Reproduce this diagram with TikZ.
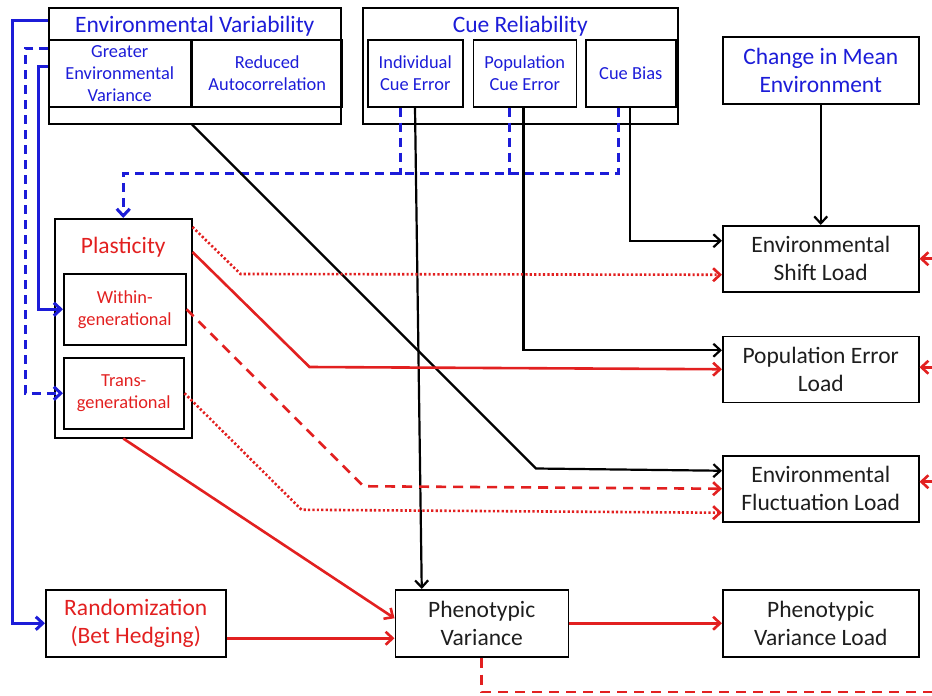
\documentclass[tikz,border=0pt]{standalone}
\usepackage{fontspec}
\setmainfont{Carlito}
\usetikzlibrary{positioning, arrows.meta}
\definecolor{evblue}{RGB}{28,28,216}
\definecolor{plred}{RGB}{226,32,32}
\definecolor{ink}{RGB}{30,30,30}
\newcommand{\bigtxt}{\fontsize{23.5}{28}\selectfont}
\newcommand{\smalltxt}{\fontsize{18.4}{22}\selectfont}
\tikzstyle{bx} = [draw, line width=1.5pt, inner sep=0pt, align=center, text=ink, font=\bigtxt, minimum height=66pt]
\tikzstyle{sb} = [bx, font=\smalltxt, text=evblue, minimum height=67pt]
\tikzstyle{hd} = [inner sep=0pt, font=\bigtxt, anchor=base]
\tikzstyle{blk} = [->, line width=2.2pt, black]
\tikzstyle{bl} = [->, line width=3pt, evblue]
\tikzstyle{bld} = [bl, dash pattern=on 9pt off 6pt]
\tikzstyle{rd} = [->, line width=2.6pt, plred]
\tikzstyle{rdash} = [rd, dash pattern=on 10pt off 7pt]
\tikzstyle{rdot} = [rd, dash pattern=on 2.2pt off 2.2pt]

\begin{document}
\begin{tikzpicture}[x=1pt, y=1pt, >={Straight Barb[length=7pt, width=13pt]}]
    \useasboundingbox (0,0) rectangle (932,-696);

    % drivers
    \node[bx, minimum width=292pt, minimum height=116pt, anchor=north west] (envvar) at (48,-7) {};
    \node[hd, text=evblue] (envhd) at ([yshift=-25pt]envvar.north) {Environmental Variability};
    \node[sb, minimum width=142pt, anchor=north west] (greatvar) at (48,-39) {Greater\\Environmental\\Variance};
    \node[sb, minimum width=150pt, right=0pt of greatvar] (reducac) {Reduced\\Autocorrelation};

    \node[bx, minimum width=315pt, minimum height=116pt, anchor=north west] (cuerel) at (362,-7) {};
    \node[hd, text=evblue] (cuehd) at ([yshift=-25pt]cuerel.north) {Cue Reliability};
    \node[sb, minimum width=95pt, anchor=north west] (indcue) at (367,-39) {Individual\\Cue Error};
    \node[sb, minimum width=103pt, right=9pt of indcue] (popcue) {Population\\Cue Error};
    \node[sb, minimum width=90pt, right=8pt of popcue] (cuebias) {Cue Bias};

    \node[bx, text=evblue, minimum width=196pt, minimum height=67pt, anchor=north west] (meanenv) at (722,-36) {Change in Mean\\Environment};

    % responses
    \node[bx, minimum width=137pt, minimum height=219pt, anchor=north west] (plast) at (54,-218) {};
    \node[hd, text=plred] (plasthd) at ([yshift=-35pt]plast.north) {Plasticity};
    \node[sb, text=plred, minimum width=122pt, minimum height=71pt, anchor=north west] (withingen) at (63,-273) {Within-\\generational};
    \node[sb, text=plred, minimum width=120pt, minimum height=71pt, anchor=north west] (transgen) at (63,-357) {Trans-\\generational};

    % loads
    \node[bx, minimum width=196pt, anchor=north west] (shiftload) at (722,-225) {Environmental\\Shift Load};
    \node[bx, minimum width=196pt, below=43pt of shiftload] (poperrload) {Population Error\\Load};
    \node[bx, minimum width=196pt, below=52pt of poperrload] (fluctload) {Environmental\\Fluctuation Load};
    \node[bx, minimum width=196pt, minimum height=67pt, anchor=north west] (pvload) at (722,-589) {Phenotypic\\Variance Load};
    \node[bx, minimum width=173pt, minimum height=67pt, left=153pt of pvload] (phenvar) {Phenotypic\\Variance};
    \node[bx, text=plred, minimum width=180pt, minimum height=67pt, left=168pt of phenvar] (randhedge) {Randomization\\(Bet Hedging)};

    \coordinate (cuebus) at (0,-173);
    \coordinate (feedback) at (932,-692);

    % blue
    \draw[bl] ([yshift=-13pt]envvar.north west) -- ++(-36,0) |- (randhedge.west);
    \draw[bl] ([yshift=-27pt]greatvar.north west) -- ++(-10,0) |- (withingen.west);
    \draw[bld] ([yshift=-9pt]greatvar.north west) -- ++(-23,0) |- (transgen.west);
    \draw[bld] ([xshift=33pt]cuebias.south west) |- (plast.north |- cuebus) -- (plast.north);
    \draw[bld, -] ([xshift=33pt]indcue.south west) -- ++(0,-67);
    \draw[bld, -] ([xshift=37pt]popcue.south west) -- ++(0,-67);

    % black
    \draw[blk] (meanenv.south) -- (shiftload.north);
    \draw[blk] ([xshift=45pt]cuebias.south west) |- ([yshift=18pt]shiftload.west);
    \draw[blk] ([xshift=51pt]popcue.south west) |- ([yshift=19pt]poperrload.west);
    \draw[blk] ([xshift=144pt]envvar.south west) -- ++(344,-344) -- ([yshift=18pt]fluctload.west);
    \draw[blk] ([xshift=48pt]indcue.south west) -- ([xshift=-60pt]phenvar.north);

    % red
    \draw[rdot] ([yshift=-9pt]plast.north east) -- ++(48,-47) -- ([yshift=-16pt]shiftload.west);
    \draw[rd] ([yshift=-34pt]plast.north east) -- ++(117,-115) -- (poperrload.west);
    \draw[rdash] (withingen.east) -- ++(177,-177) -- (fluctload.west);
    \draw[rdot] (transgen.east) -- ++(117,-116.5) -- ([yshift=-24pt]fluctload.west);
    \draw[rd] (plast.south) -- ([yshift=5pt]phenvar.west);
    \draw[rd] ([yshift=-15pt]randhedge.east) -- ([yshift=-15pt]phenvar.west);
    \draw[rd] (phenvar) -- (pvload);
    \draw[rdash, -] (phenvar.south) |- (feedback);
    \draw[rdash, <-] (shiftload.east) -- ++(14,0);
    \draw[rdash, <-] ([yshift=2pt]poperrload.east) -- ++(14,0);
    \draw[rdash, <-] ([yshift=7pt]fluctload.east) -- ++(14,0);

\end{tikzpicture}
\end{document}
